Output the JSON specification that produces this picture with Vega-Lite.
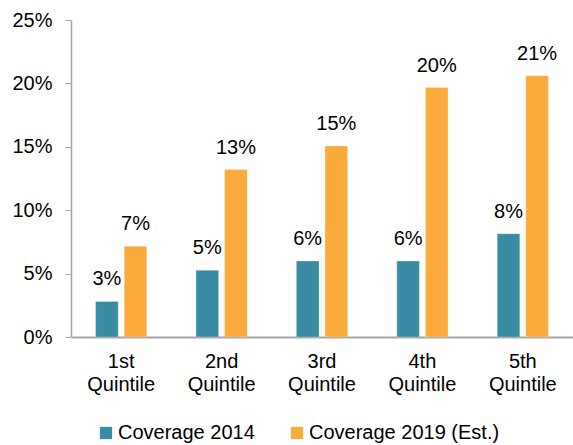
{
  "$schema": "https://vega.github.io/schema/vega-lite/v6.json",
  "width": 502,
  "height": 317,
  "autosize": "none",
  "padding": {"left": 71, "top": 20, "right": 0, "bottom": 108},
  "background": "white",
  "config": {
    "font": "Liberation Sans",
    "view": {"stroke": null}
  },
  "data": {
    "values": [
      {"quintile": "1st Quintile", "series": "Coverage 2014", "value": 0.028},
      {"quintile": "1st Quintile", "series": "Coverage 2019 (Est.)", "value": 0.0715},
      {"quintile": "2nd Quintile", "series": "Coverage 2014", "value": 0.0526},
      {"quintile": "2nd Quintile", "series": "Coverage 2019 (Est.)", "value": 0.132},
      {"quintile": "3rd Quintile", "series": "Coverage 2014", "value": 0.06},
      {"quintile": "3rd Quintile", "series": "Coverage 2019 (Est.)", "value": 0.1507},
      {"quintile": "4th Quintile", "series": "Coverage 2014", "value": 0.06},
      {"quintile": "4th Quintile", "series": "Coverage 2019 (Est.)", "value": 0.1967},
      {"quintile": "5th Quintile", "series": "Coverage 2014", "value": 0.0815},
      {"quintile": "5th Quintile", "series": "Coverage 2019 (Est.)", "value": 0.206}
    ]
  },
  "encoding": {
    "x": {
      "field": "quintile",
      "type": "nominal",
      "sort": null,
      "scale": {"paddingInner": 0.49, "paddingOuter": 0.245},
      "axis": {
        "title": null,
        "labelAngle": 0,
        "labelExpr": "split(datum.label, ' ')",
        "labelFontSize": 20,
        "labelColor": "#000000",
        "labelLineHeight": 23,
        "labelPadding": 14,
        "ticks": false,
        "domainColor": "#a6a6a6",
        "domainWidth": 2
      }
    },
    "xOffset": {
      "field": "series",
      "type": "nominal",
      "scale": {"paddingInner": 0.21, "paddingOuter": 0}
    },
    "y": {
      "field": "value",
      "type": "quantitative",
      "scale": {"domain": [0, 0.25], "nice": false},
      "axis": {
        "title": null,
        "format": ".0%",
        "values": [0, 0.05, 0.1, 0.15, 0.2, 0.25],
        "grid": false,
        "labelFontSize": 20,
        "labelColor": "#000000",
        "labelPadding": 13,
        "tickSize": 6,
        "tickColor": "#a6a6a6",
        "domainColor": "#a6a6a6",
        "domainWidth": 1.5
      }
    }
  },
  "layer": [
    {
      "mark": {"type": "bar", "stroke": "#ffffff", "strokeOpacity": 0.5, "strokeWidth": 0.5},
      "encoding": {
        "color": {
          "field": "series",
          "type": "nominal",
          "scale": {"range": ["#3a8ca4", "#fbaa3c"]},
          "legend": {
            "title": null,
            "orient": "none",
            "legendX": 25,
            "legendY": 403,
            "padding": 0,
            "direction": "horizontal",
            "symbolType": "square",
            "symbolSize": 150,
            "symbolStrokeWidth": 0,
            "labelFontSize": 20,
            "labelColor": "#000000",
            "labelOffset": 2,
            "labelLimit": 0,
            "columnPadding": 32
          }
        }
      }
    },
    {
      "mark": {"type": "text", "baseline": "alphabetic", "dy": -16, "fontSize": 20, "color": "#000000"},
      "encoding": {
        "text": {"field": "value", "type": "quantitative", "format": ".0%"}
      }
    }
  ]
}
